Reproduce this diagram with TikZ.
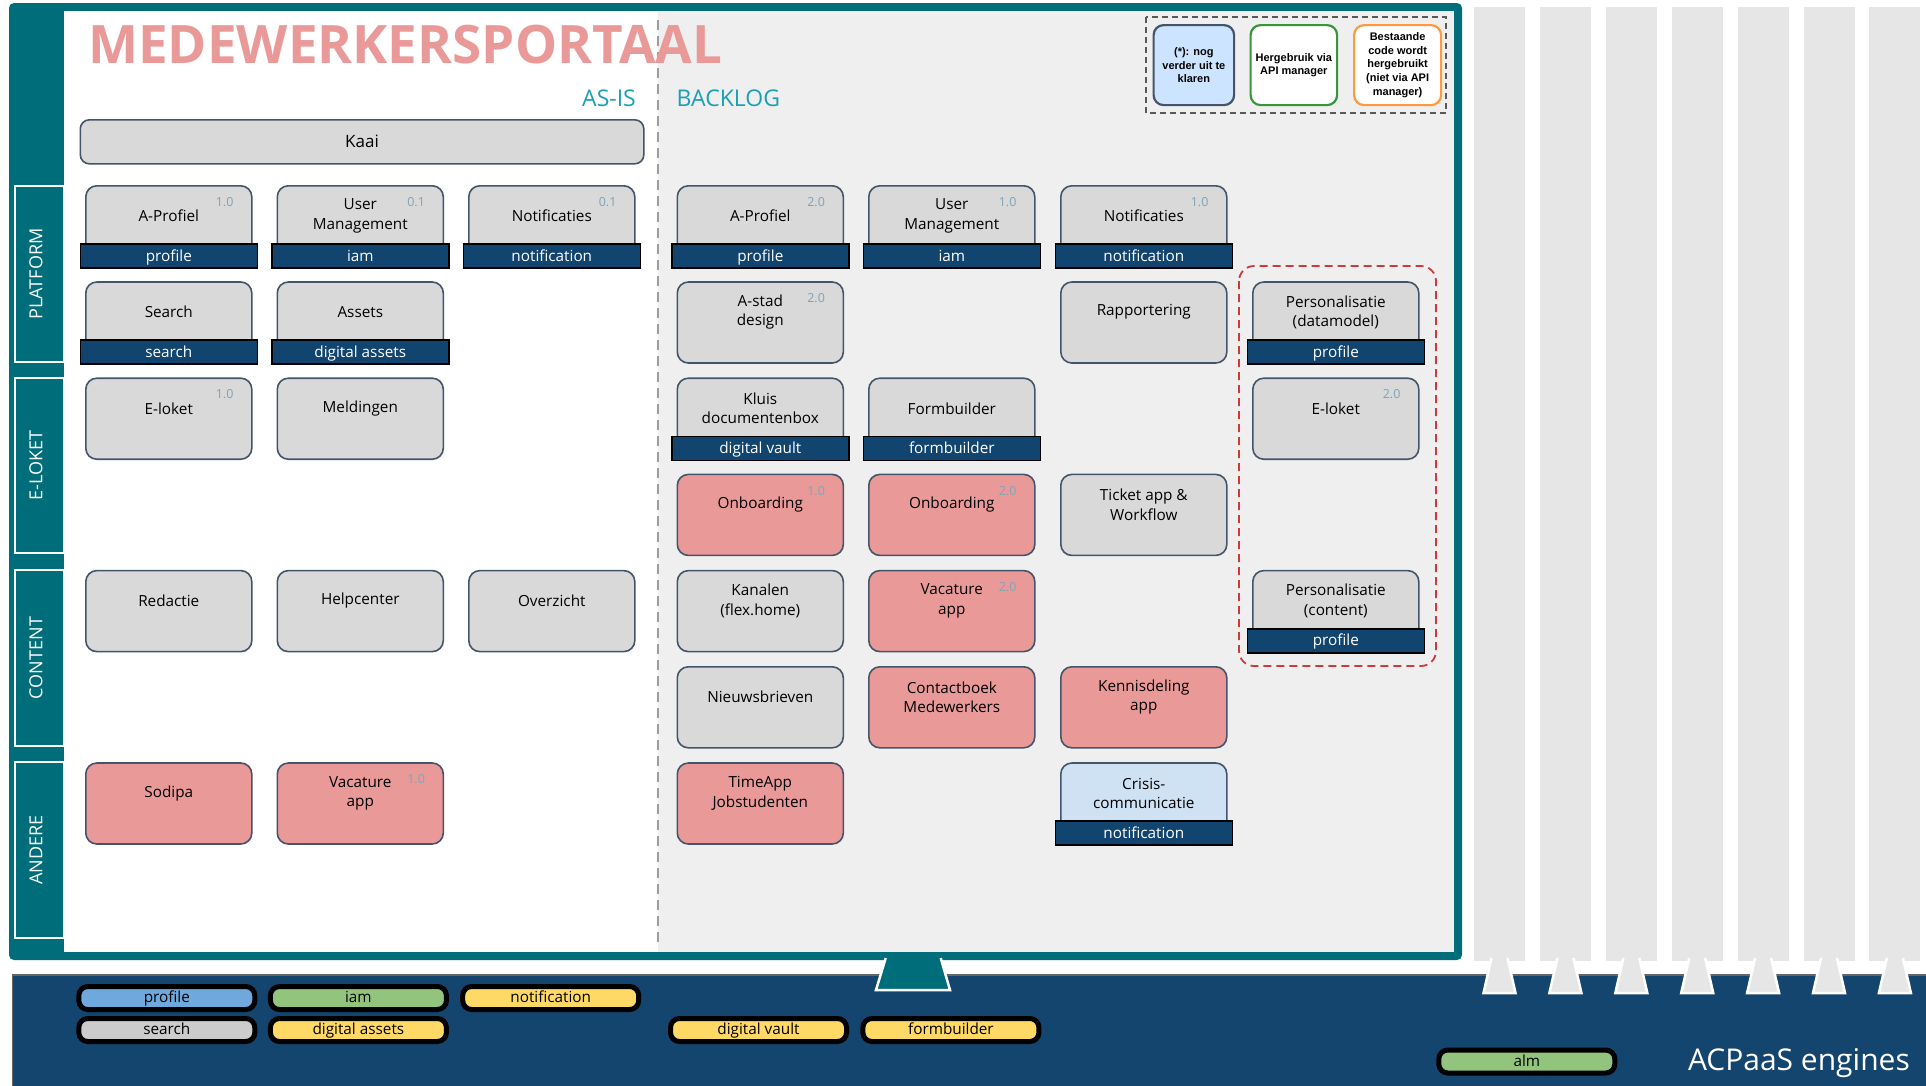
\documentclass[tikz,border=0pt]{standalone}
\usepackage{fontspec}
\setmainfont{Open Sans}
\newfontfamily\legfont{Liberation Sans}
\definecolor{teal}{HTML}{006E7A}
\definecolor{panelgrey}{HTML}{EFEFEF}
\definecolor{boxgrey}{HTML}{D9D9D9}
\definecolor{boxred}{HTML}{EA9999}
\definecolor{boxblue}{HTML}{CFE2F3}
\definecolor{bordc}{HTML}{44546A}
\definecolor{tagnavy}{HTML}{11446F}
\definecolor{bandnavy}{HTML}{13456F}
\definecolor{verc}{HTML}{7FA3B5}
\definecolor{headc}{HTML}{1AA0B5}
\definecolor{titlec}{HTML}{EA9999}
\definecolor{barg}{HTML}{E6E6E6}
\definecolor{legblue}{HTML}{CCE4FF}
\definecolor{leggreen}{HTML}{38963A}
\definecolor{legorange}{HTML}{FF9A3C}
\definecolor{grpred}{HTML}{CC3B3B}
\definecolor{pblue}{HTML}{6FA8DC}
\definecolor{pgreen}{HTML}{93C47D}
\definecolor{pyellow}{HTML}{FFD966}
\definecolor{pgrey}{HTML}{CCCCCC}
\tikzset{
  appbox/.style={draw=bordc, line width=1.6pt, rounded corners=11pt, minimum width=166pt, minimum height=81pt, inner sep=0pt, anchor=north west},
  apptext/.style={align=center, inner sep=0pt, font=\fontsize{15.3}{19.5}\selectfont, text=black},
  vers/.style={inner sep=0pt, font=\fontsize{12.5}{14}\selectfont, text=verc},
  tagbar/.style={draw=black, fill=tagnavy, line width=1.5pt, minimum width=177pt, minimum height=24pt, inner sep=0pt, text=white, font=\fontsize{15.3}{18}\selectfont, text height=10.5pt, text depth=0.5pt},
  sidelab/.style={rotate=90, text=white, font=\fontsize{18}{21}\selectfont, inner sep=0pt, text height=12.8pt, text depth=0pt},
  legbox/.style={line width=2.2pt, rounded corners=10pt, inner sep=0pt},
  legtext/.style={align=center, inner sep=0pt, font=\legfont\bfseries\fontsize{11}{13.7}\selectfont},
  pill/.style={draw=black, line width=5pt, rounded corners=9pt, minimum width=176pt, minimum height=23pt, inner sep=0pt, font=\fontsize{15.3}{18}\selectfont, text height=10.5pt, text depth=1.5pt},
}
\newcommand\mkapp[6]{%
  \node[appbox, fill=#4] (#1) at (#2,#3) {};
  \node[apptext] (#1txt) at ([yshift=-31pt]#1.north) {#5};
  \def\vtmp{#6}\ifx\vtmp\empty\else
  \node[vers] (#1ver) at ([xshift=-28pt,yshift=-17pt]#1.north east) {#6};\fi
}
\newcommand\mktag[3]{\node[tagbar] (#1) at ([yshift=-71pt]#2.north) {#3};}
\begin{document}
\begin{tikzpicture}[x=1pt,y=-1pt]
\useasboundingbox[fill=white] (0,0) rectangle (1926,1085);
% right grey bars
\foreach \i in {0,...,6}{
  \pgfmathsetmacro{\bx}{1474+65.9*\i}
  \fill[barg] (\bx,7) rectangle (\bx+51,961);
}
% bottom navy band
\draw[fill=bandnavy, draw=black!60, line width=1.5pt] (12.5,975) rectangle (1935,1095);
% tabs of grey bars
\foreach \i in {0,...,6}{
  \pgfmathsetmacro{\cx}{1474+65.9*\i+25.5}
  \filldraw[fill=barg, draw=white, line width=2.5pt] (\cx-8,958) -- (\cx-16,993) -- (\cx+16,993) -- (\cx+8,958);
}
% teal frame
\fill[teal, rounded corners=5pt] (9,3) rectangle (1462,960);
\filldraw[fill=teal, draw=white, line width=2.5pt] (885.7,958) -- (876,990) -- (950,990) -- (940.7,958);
\fill[white] (64,11) rectangle (658,952);
\fill[panelgrey] (658,11) rectangle (1454,952);
\draw[black!38, line width=1.5pt, dash pattern=on 10pt off 6pt] (658,20) -- (658,942);
% side labels
\draw[white, line width=1.5pt] (15,186) rectangle (64,362);
\draw[white, line width=1.5pt] (15,378) rectangle (64,553);
\draw[white, line width=1.5pt] (15,570) rectangle (64,746);
\draw[white, line width=1.5pt] (15,762) rectangle (64,938);
\node[sidelab] (lplat) at (36,274) {PLATFORM};
\node[sidelab] (lelok) at (36,465.5) {E-LOKET};
\node[sidelab] (lcont) at (36,658) {CONTENT};
\node[sidelab] (landr) at (36,850) {ANDERE};
% titles
\node[anchor=base west, inner sep=0pt, text=titlec, font=\bfseries\fontsize{53}{60}\selectfont] (title) at (88,63) {MEDEWERKERSPORTAAL};
\node[anchor=base east, inner sep=0pt, text=headc, font=\fontsize{23}{26}\selectfont] (asis) at (636,106) {AS-IS};
\node[anchor=base west, inner sep=0pt, text=headc, font=\fontsize{23}{26}\selectfont] (backlog) at (676.5,106) {BACKLOG};
% legend
\draw[black!65, line width=1.5pt, dash pattern=on 6pt off 4pt] (1146,17) rectangle (1446,113);
\node[legbox, draw=bordc, fill=legblue, minimum width=80.5pt, minimum height=80pt, anchor=north west] (leg1) at (1152.5,24) {};
\node[legtext] (leg1t) at (leg1.center) {(*): nog\\verder uit te\\klaren};
\node[legbox, draw=leggreen, fill=white, minimum width=86.5pt, minimum height=80pt, anchor=north west] (leg2) at (1249.5,24) {};
\node[legtext] (leg2t) at (leg2.center) {Hergebruik via\\API manager};
\node[legbox, draw=legorange, fill=white, minimum width=87pt, minimum height=80pt, anchor=north west] (leg3) at (1353,24) {};
\node[legtext] (leg3t) at (leg3.center) {Bestaande\\code wordt\\hergebruikt\\(niet via API\\manager)};
% Kaai
\node[draw=bordc, fill=boxgrey, line width=1.6pt, rounded corners=9pt, minimum width=563.5pt, minimum height=44pt, anchor=north west, inner sep=0pt, font=\fontsize{17}{20}\selectfont] (kaai) at (79.5,119) {Kaai};
% group dashed
\draw[grpred, line width=1.8pt, dash pattern=on 8pt off 5pt, rounded corners=15pt] (1239,266) rectangle (1436,666);
% AS-IS apps
\mkapp{aprof}{85}{185}{boxgrey}{A-Profiel}{1.0}
\mktag{aproftag}{aprof}{profile}
\mkapp{um}{276.5}{185}{boxgrey}{User\\Management}{0.1}
\mktag{umtag}{um}{iam}
\mkapp{notif}{468}{185}{boxgrey}{Notificaties}{0.1}
\mktag{notiftag}{notif}{notification}
\mkapp{search}{85}{281.2}{boxgrey}{Search}{}
\mktag{searchtag}{search}{search}
\mkapp{assets}{276.5}{281.2}{boxgrey}{Assets}{}
\mktag{assetstag}{assets}{digital assets}
\mkapp{eloket}{85}{377.4}{boxgrey}{E-loket}{1.0}
\mkapp{meld}{276.5}{377.4}{boxgrey}{Meldingen}{}
\mkapp{redac}{85}{569.8}{boxgrey}{Redactie}{}
\mkapp{help}{276.5}{569.8}{boxgrey}{Helpcenter}{}
\mkapp{overz}{468}{569.8}{boxgrey}{Overzicht}{}
\mkapp{sodipa}{85}{762.2}{boxred}{Sodipa}{}
\mkapp{vaca}{276.5}{762.2}{boxred}{Vacature\\app}{1.0}
% BACKLOG apps
\mkapp{bprof}{676.5}{185}{boxgrey}{A-Profiel}{2.0}
\mktag{bproftag}{bprof}{profile}
\mkapp{bum}{868}{185}{boxgrey}{User\\Management}{1.0}
\mktag{bumtag}{bum}{iam}
\mkapp{bnotif}{1060}{185}{boxgrey}{Notificaties}{1.0}
\mktag{bnotiftag}{bnotif}{notification}
\mkapp{astad}{676.5}{281.2}{boxgrey}{A-stad\\design}{2.0}
\mkapp{rapp}{1060}{281.2}{boxgrey}{Rapportering}{}
\mkapp{persd}{1252}{281.2}{boxgrey}{Personalisatie\\(datamodel)}{}
\mktag{persdtag}{persd}{profile}
\mkapp{kluis}{676.5}{377.4}{boxgrey}{Kluis\\documentenbox}{}
\mktag{kluistag}{kluis}{digital vault}
\mkapp{formb}{868}{377.4}{boxgrey}{Formbuilder}{}
\mktag{formbtag}{formb}{formbuilder}
\mkapp{beloket}{1252}{377.4}{boxgrey}{E-loket}{2.0}
\mkapp{onba}{676.5}{473.6}{boxred}{Onboarding}{1.0}
\mkapp{onbb}{868}{473.6}{boxred}{Onboarding}{2.0}
\mkapp{ticket}{1060}{473.6}{boxgrey}{Ticket app \&\\Workflow}{}
\mkapp{kanal}{676.5}{569.8}{boxgrey}{Kanalen\\(flex.home)}{}
\mkapp{vacb}{868}{569.8}{boxred}{Vacature\\app}{2.0}
\mkapp{persc}{1252}{569.8}{boxgrey}{Personalisatie\\(content)}{}
\mktag{persctag}{persc}{profile}
\mkapp{nieuws}{676.5}{666}{boxgrey}{Nieuwsbrieven}{}
\mkapp{contact}{868}{666}{boxred}{Contactboek\\Medewerkers}{}
\mkapp{kennis}{1060}{666}{boxred}{Kennisdeling\\app}{}
\mkapp{timeapp}{676.5}{762.2}{boxred}{TimeApp\\Jobstudenten}{}
\mkapp{crisis}{1060}{762.2}{boxblue}{Crisis-\\communicatie}{}
\mktag{crisistag}{crisis}{notification}
% engine pills
\node[pill, fill=pblue] (eprof) at (166.8,998) {profile};
\node[pill, fill=pgreen] (eiam) at (358.4,998) {iam};
\node[pill, fill=pyellow] (enotif) at (550.7,998) {notification};
\node[pill, fill=pgrey] (esearch) at (166.8,1030) {search};
\node[pill, fill=pyellow] (eassets) at (358.4,1030) {digital assets};
\node[pill, fill=pyellow] (evault) at (758.5,1030) {digital vault};
\node[pill, fill=pyellow] (eform) at (950.9,1030) {formbuilder};
\node[pill, fill=pgreen] (ealm) at (1526.8,1061.5) {alm};
\node[anchor=base east, inner sep=0pt, text=white, font=\fontsize{30}{34}\selectfont] (acpaas) at (1910,1070) {ACPaaS engines};
\end{tikzpicture}
\end{document}
